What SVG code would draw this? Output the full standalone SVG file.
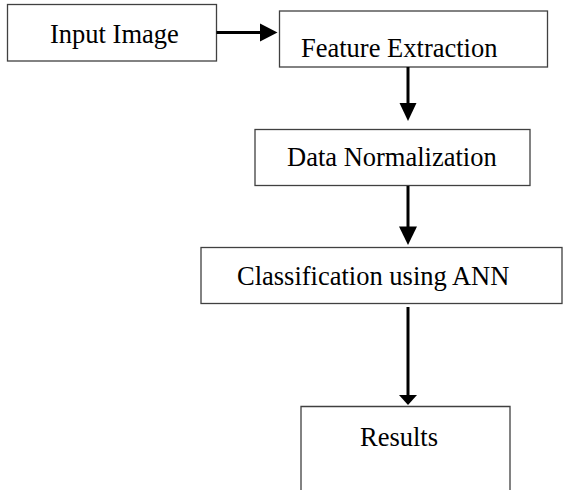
<svg xmlns="http://www.w3.org/2000/svg" width="563" height="490" viewBox="0 0 563 490">
<style>
.box{fill:#fff;stroke:#404040;stroke-width:1.3}
.lbl{font-family:"Liberation Serif","Times New Roman",serif;font-size:26.5px;fill:#000}
.conn{stroke:#000;stroke-width:3;fill:none}
.head{fill:#000}
</style>
<rect width="563" height="490" fill="#fff"/>
<g id="input-image">
<rect class="box" x="7.5" y="4.5" width="209" height="56.5"/>
<text class="lbl" x="50" y="43">Input Image</text>
</g>
<g id="feature-extraction">
<rect class="box" x="279.5" y="11" width="268" height="56"/>
<text class="lbl" x="301" y="57">Feature Extraction</text>
</g>
<g id="data-normalization">
<rect class="box" x="255" y="129.5" width="275" height="56"/>
<text class="lbl" x="287" y="166">Data Normalization</text>
</g>
<g id="classification">
<rect class="box" x="201" y="247.5" width="361" height="56"/>
<text class="lbl" x="237" y="285">Classification using ANN</text>
</g>
<g id="results">
<path class="box" d="M301,491 V406.5 H510 V491"/>
<text class="lbl" x="360" y="446">Results</text>
</g>
<g id="connectors">
<line class="conn" x1="216.5" y1="32.5" x2="262" y2="32.5"/>
<polygon class="head" points="260,23.5 277.5,32.5 260,41.5"/>
<line class="conn" x1="408" y1="67" x2="408" y2="105"/>
<polygon class="head" points="399.5,103 408,121 416.5,103"/>
<line class="conn" x1="408" y1="186" x2="408" y2="228"/>
<polygon class="head" points="399,226.5 408,245 417,226.5"/>
<line class="conn" x1="408" y1="307" x2="408" y2="397"/>
<polygon class="head" points="399,395 408,405 417,395"/>
</g>
</svg>
